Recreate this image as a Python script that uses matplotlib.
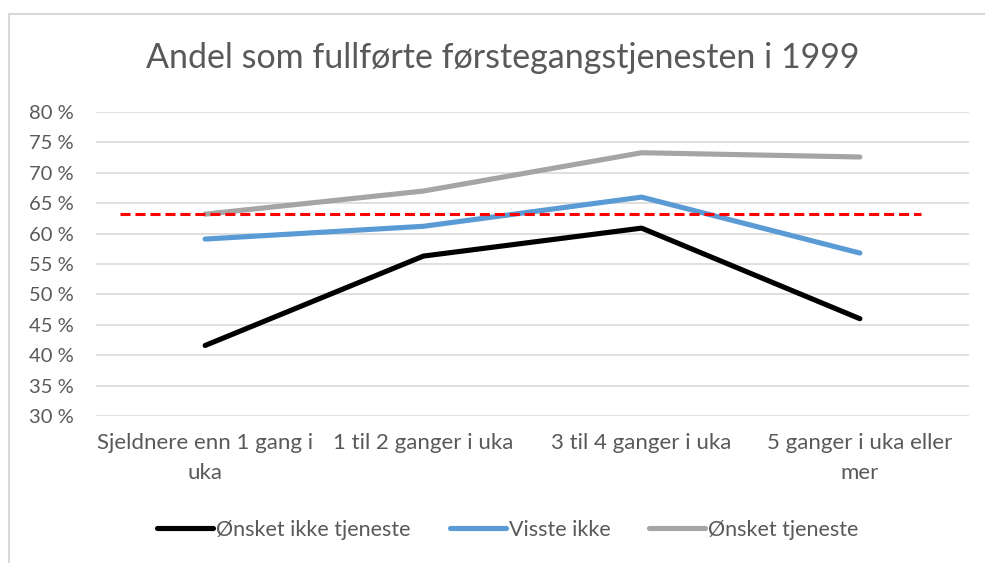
import matplotlib
matplotlib.use("Agg")
import matplotlib.pyplot as plt
from matplotlib.patches import Rectangle
from matplotlib.ticker import FuncFormatter

categories = ["Sjeldnere enn 1 gang i\nuka", "1 til 2 ganger i uka", "3 til 4 ganger i uka", "5 ganger i uka eller\nmer"]
onsket_ikke = [41.6, 56.3, 60.9, 46.0]
visste_ikke = [59.1, 61.2, 66.0, 56.8]
onsket = [63.2, 67.0, 73.3, 72.6]
reference_level = 63.2
series_names = ["Ønsket ikke tjeneste", "Visste ikke", "Ønsket tjeneste"]
yticks = [30, 35, 40, 45, 50, 55, 60, 65, 70, 75, 80]

plt.rcParams['font.family'] = ['Lato', 'DejaVu Sans']
txt = '#595959'

fig = plt.figure(figsize=(9.85, 5.63), dpi=100)
ax = fig.add_axes([96/985, 1-416/563, (969-96)/985, (416-112)/563])

x = list(range(len(categories)))
colors = ['#000000', '#5B9BD5', '#A5A5A5']
for vals, c, name in zip([onsket_ikke, visste_ikke, onsket], colors, series_names):
    ax.plot(x, vals, color=c, lw=3.7, solid_capstyle='round', solid_joinstyle='round', label=name, zorder=3)

ax.hlines(reference_level, -0.39, 3.28, colors='#FF0000', lw=2.2, linestyles=(0, (3.3, 1.6)), zorder=4)

ax.set_xlim(-0.5, 3.5)
ax.set_ylim(30, 80)
ax.set_yticks(yticks)
ax.yaxis.set_major_formatter(FuncFormatter(lambda v, p: f"{int(v)} %"))
ax.grid(axis='y', color='#D9D9D9', lw=1.2)
ax.set_axisbelow(True)
for s in ax.spines.values():
    s.set_visible(False)
ax.tick_params(axis='both', length=0, colors=txt)
ax.tick_params(axis='y', pad=16, labelsize=14.5)
ax.tick_params(axis='x', pad=12, labelsize=16)
ax.set_xticks(x)
ax.set_xticklabels(categories, linespacing=1.65)

fig.text(503/985, 1-58/563, "Andel som fullførte førstegangstjenesten i 1999", ha='center', va='center',
         fontsize=24.5, color=txt)

leg = fig.legend(loc='center', bbox_to_anchor=(508/985, 1-530/563), ncol=3, frameon=False,
                 fontsize=15.5, handlelength=2.6, handletextpad=0.15, columnspacing=1.8)
for t in leg.get_texts():
    t.set_color(txt)

fig.add_artist(Rectangle((9/985, -0.1), 1.1, 1-14/563+0.1, transform=fig.transFigure,
                         fill=False, edgecolor='#D9D9D9', lw=1.5))

fig.savefig("out.png", dpi=100)
